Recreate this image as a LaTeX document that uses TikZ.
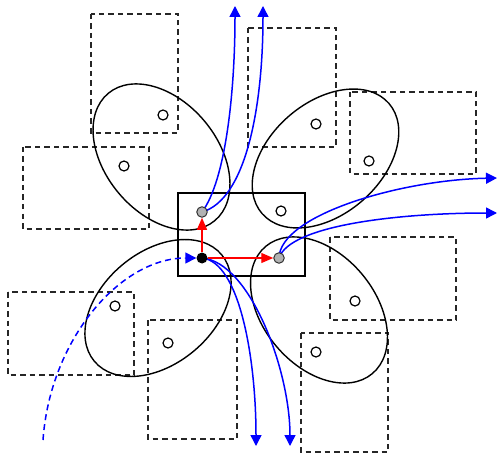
\documentclass[tikz,border=0pt]{standalone}
\usetikzlibrary{arrows.meta}
\begin{document}
\begin{tikzpicture}[x=1pt,y=-1pt,
  region/.style={draw=black!85,line width=1.4pt,dash pattern=on 5.5pt off 4pt},
  blob/.style={draw=black,line width=1.4pt},
  hole/.style={circle,draw=black,line width=1.2pt,fill=white,minimum size=10pt,inner sep=0pt},
  gdot/.style={circle,draw=black!80,line width=1pt,fill=black!30,minimum size=10.5pt,inner sep=0pt},
  bdot/.style={circle,fill=black,minimum size=11pt,inner sep=0pt},
  flow/.style={draw=blue,line width=1.5pt,-{Triangle[length=11pt,width=11pt]}},
  move/.style={draw=red,line width=1.3pt,-{Triangle[length=12pt,width=10pt]}}]
\useasboundingbox (0,0) rectangle (497,454);
% dashed regions
\draw[region] (91,14) rectangle (178,133);
\draw[region] (23,147) rectangle (149,229);
\draw[region] (248,28) rectangle (336,147);
\draw[region] (350,92) rectangle (476,174);
\draw[region] (8,292) rectangle (134,375);
\draw[region] (148,320) rectangle (237,439);
\draw[region] (330,237) rectangle (456,320);
\draw[region] (301,333) rectangle (388,452);
% ellipses
\draw[blob,rotate around={-50:(161.5,157)}] (161.5,157) ellipse [x radius=83, y radius=56];
\draw[blob,rotate around={41:(325.5,158.5)}] (325.5,158.5) ellipse [x radius=84, y radius=56];
\draw[blob,rotate around={40:(158,308)}] (158,308) ellipse [x radius=83, y radius=56];
\draw[blob,rotate around={-50:(319,310)}] (319,310) ellipse [x radius=83, y radius=56];
% central box
\draw[line width=1.3pt] (178,193) rectangle (305,276);
% small circles
\node[hole] (h1) at (163,115) {};
\node[hole] (h2) at (124,166) {};
\node[hole] (h3) at (316,124) {};
\node[hole] (h4) at (369,161) {};
\node[hole] (h5) at (281,211) {};
\node[hole] (h6) at (115,306) {};
\node[hole] (h7) at (168,343) {};
\node[hole] (h8) at (355,301) {};
\node[hole] (h9) at (316,352) {};
% coordinates for free ends
\coordinate (t1) at (235,6);
\coordinate (t2) at (263,6);
\coordinate (r1) at (497,178);
\coordinate (r2) at (497,213);
\coordinate (d1) at (256,446);
\coordinate (d2) at (290,446);
\coordinate (s) at (43,440);
% blue flows
\draw[flow] (202,212) .. controls (226,180) and (235,90) .. (t1);
\draw[flow] (202,212) .. controls (245,200) and (263,110) .. (t2);
\draw[flow] (279,258) .. controls (280,215) and (400,180) .. (r1);
\draw[flow] (279,258) .. controls (290,225) and (400,213) .. (r2);
\draw[flow] (202,258) .. controls (240,262) and (256,360) .. (d1);
\draw[flow] (202,258) .. controls (250,262) and (290,370) .. (d2);
% dots
\node[gdot] (g1) at (202,212) {};
\node[gdot] (g2) at (279,258) {};
\node[bdot] (b) at (202,258) {};
\draw[flow,dash pattern=on 6pt off 4pt] (s) .. controls (50,340) and (120,258) .. (b);
% red moves
\draw[move] (b) -- (g1);
\draw[move] (b) -- (g2);
\end{tikzpicture}
\end{document}
